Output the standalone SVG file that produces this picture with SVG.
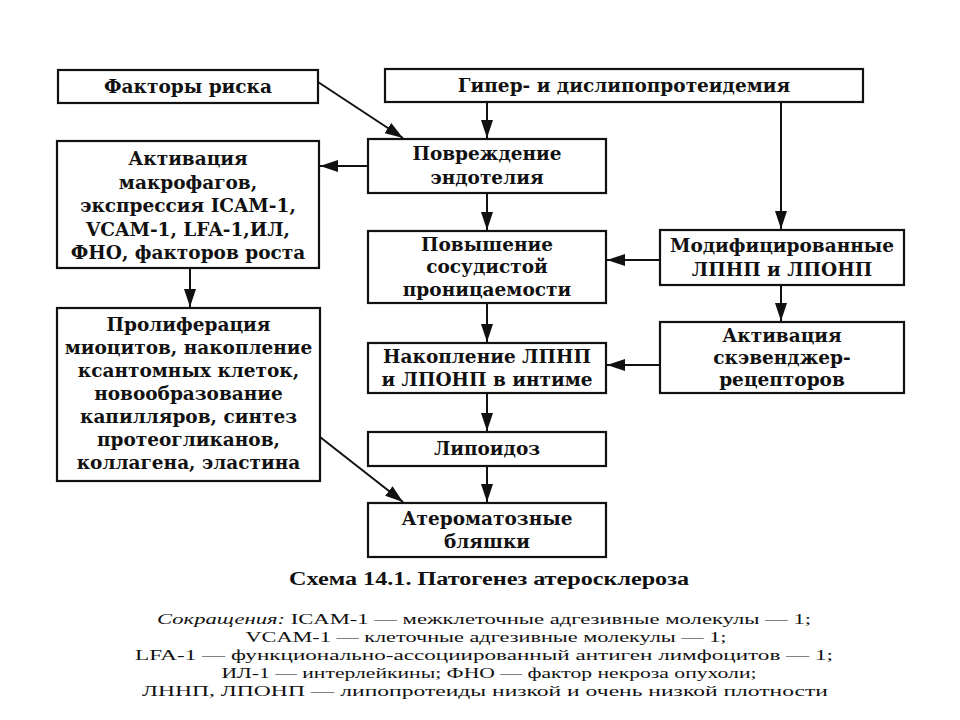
<svg xmlns="http://www.w3.org/2000/svg" width="960" height="720" viewBox="0 0 960 720">
<style>
.box{fill:#fff;stroke:#111;stroke-width:2.2}
.t{font-family:"DejaVu Serif","Liberation Serif",serif;font-weight:bold;font-size:18.5px;fill:#111;text-anchor:middle}
.c{font-family:"Liberation Serif","Times New Roman",serif;fill:#111;text-anchor:middle}
.ln{stroke:#111;stroke-width:2;fill:none;marker-end:url(#ah)}
</style>
<defs>
<marker id="ah" markerUnits="userSpaceOnUse" markerWidth="18" markerHeight="12" refX="18" refY="6" orient="auto">
<path d="M0,0 L18,6 L0,12 z" fill="#111"/>
</marker>
</defs>
<rect width="960" height="720" fill="#fff"/>
<g id="connectors">
<path class="ln" d="M318,82 L403,138"/>
<path class="ln" d="M487,102 L487,138"/>
<path class="ln" d="M781,102 L781,229"/>
<path class="ln" d="M368,166 L320,166"/>
<path class="ln" d="M190,268 L190,307"/>
<path class="ln" d="M487,193 L487,230"/>
<path class="ln" d="M660,260 L607,260"/>
<path class="ln" d="M487,303 L487,342"/>
<path class="ln" d="M781,285 L781,321"/>
<path class="ln" d="M660,365 L607,365"/>
<path class="ln" d="M487,393 L487,431"/>
<path class="ln" d="M487,466 L487,502"/>
<path class="ln" d="M320,437 L403,502"/>
</g>
<g id="n-factors">
<rect class="box" x="58" y="70" width="260" height="33"/>
<text class="t" x="188" y="93">Факторы риска</text>
</g>
<g id="n-hyper">
<rect class="box" x="385" y="69" width="478" height="33"/>
<text class="t" x="624" y="92">Гипер- и дислипопротеидемия</text>
</g>
<g id="n-damage">
<rect class="box" x="368" y="139" width="238" height="54"/>
<text class="t" x="487" y="160">Повреждение</text>
<text class="t" x="487" y="184">эндотелия</text>
</g>
<g id="n-activation">
<rect class="box" x="57" y="141" width="262" height="127"/>
<text class="t" x="188" y="165">Активация</text>
<text class="t" x="188" y="188.5">макрофагов,</text>
<text class="t" x="188" y="212">экспрессия ICAM-1,</text>
<text class="t" x="188" y="235.5">VCAM-1, LFA-1,ИЛ,</text>
<text class="t" x="188" y="259">ФНО, факторов роста</text>
</g>
<g id="n-permeability">
<rect class="box" x="368" y="231" width="238" height="72"/>
<text class="t" x="487" y="250.5">Повышение</text>
<text class="t" x="487" y="273">сосудистой</text>
<text class="t" x="487" y="295.5">проницаемости</text>
</g>
<g id="n-modified">
<rect class="box" x="660" y="230" width="244" height="55"/>
<text class="t" x="782" y="252">Модифицированные</text>
<text class="t" x="782" y="276">ЛПНП и ЛПОНП</text>
</g>
<g id="n-proliferation">
<rect class="box" x="57" y="308" width="263" height="173"/>
<text class="t" x="188.5" y="331">Пролиферация</text>
<text class="t" x="188.5" y="354">миоцитов, накопление</text>
<text class="t" x="188.5" y="377">ксантомных клеток,</text>
<text class="t" x="188.5" y="400">новообразование</text>
<text class="t" x="188.5" y="423">капилляров, синтез</text>
<text class="t" x="188.5" y="446">протеогликанов,</text>
<text class="t" x="188.5" y="469">коллагена, эластина</text>
</g>
<g id="n-accumulation">
<rect class="box" x="368" y="343" width="238" height="50"/>
<text class="t" x="487" y="363">Накопление ЛПНП</text>
<text class="t" x="487" y="386">и ЛПОНП в интиме</text>
</g>
<g id="n-scavenger">
<rect class="box" x="660" y="322" width="244" height="71"/>
<text class="t" x="782" y="342">Активация</text>
<text class="t" x="782" y="364">скэвенджер-</text>
<text class="t" x="782" y="386">рецепторов</text>
</g>
<g id="n-lipoidosis">
<rect class="box" x="368" y="432" width="238" height="34"/>
<text class="t" x="487" y="455">Липоидоз</text>
</g>
<g id="n-plaques">
<rect class="box" x="368" y="503" width="238" height="54"/>
<text class="t" x="487" y="525">Атероматозные</text>
<text class="t" x="487" y="548">бляшки</text>
</g>
<g id="caption">
<text class="c" x="489" y="585" font-size="18" font-weight="bold" textLength="400" lengthAdjust="spacingAndGlyphs">Схема 14.1. Патогенез атеросклероза</text>
<text class="c" x="484" y="624" font-size="15.5" textLength="654" lengthAdjust="spacingAndGlyphs"><tspan font-style="italic">Сокращения:</tspan> ICAM-1 — межклеточные адгезивные молекулы — 1;</text>
<text class="c" x="486" y="642" font-size="15.5" textLength="481" lengthAdjust="spacingAndGlyphs">VCAM-1 — клеточные адгезивные молекулы — 1;</text>
<text class="c" x="484" y="660" font-size="15.5" textLength="698" lengthAdjust="spacingAndGlyphs">LFA-1 — функционально-ассоциированный антиген лимфоцитов — 1;</text>
<text class="c" x="489" y="678" font-size="15.5" textLength="535" lengthAdjust="spacingAndGlyphs">ИЛ-1 — интерлейкины; ФНО — фактор некроза опухоли;</text>
<text class="c" x="485" y="696" font-size="15.5" textLength="686" lengthAdjust="spacingAndGlyphs">ЛННП, ЛПОНП — липопротеиды низкой и очень низкой плотности</text>
</g>
</svg>
